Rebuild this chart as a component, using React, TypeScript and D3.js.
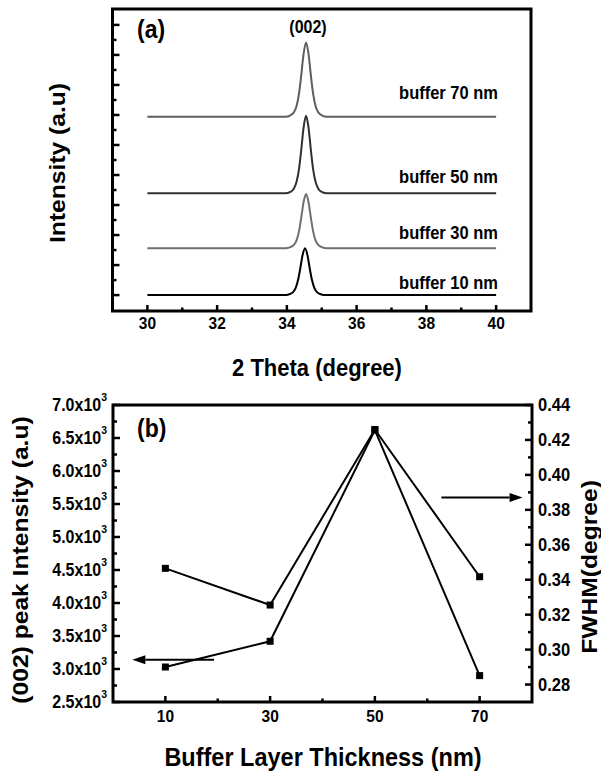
import * as d3 from "d3";

const W = 601;
const H = 776;
const FONT = '"Liberation Sans", Arial, sans-serif';
const SY = 1.12; // the source figure is a little stretched vertically

// ---- panel (a): XRD scans, [2theta, intensity (offset, a.u.)]
const XRD_10: [number, number][] = [
  [30, 0], [33.92, 0], [34.07, 30], [34.17, 90], [34.25, 230], [34.32, 500], [34.38, 860],
  [34.45, 1330], [34.52, 1560], [34.59, 1330], [34.66, 860], [34.72, 500], [34.79, 230],
  [34.87, 90], [34.97, 30], [35.12, 0], [40, 0],
];
const XRD_30: [number, number][] = [
  [30, 1560], [33.95, 1560], [34.1, 1600], [34.2, 1670], [34.28, 1830], [34.35, 2140], [34.41, 2560],
  [34.48, 3100], [34.55, 3370], [34.62, 3100], [34.69, 2560], [34.75, 2140], [34.82, 1830],
  [34.9, 1670], [35.0, 1600], [35.15, 1560], [40, 1560],
];
const XRD_50: [number, number][] = [
  [30, 3390], [33.95, 3390], [34.1, 3440], [34.2, 3545], [34.28, 3780], [34.35, 4215], [34.41, 4810],
  [34.48, 5585], [34.55, 5970], [34.62, 5585], [34.69, 4810], [34.75, 4215], [34.82, 3780],
  [34.9, 3545], [35.0, 3440], [35.15, 3390], [40, 3390],
];
const XRD_70: [number, number][] = [
  [30, 5940], [33.95, 5940], [34.1, 5990], [34.2, 6090], [34.28, 6310], [34.35, 6730], [34.41, 7300],
  [34.48, 8040], [34.55, 8410], [34.62, 8040], [34.69, 7300], [34.75, 6730], [34.82, 6310],
  [34.9, 6090], [35.0, 5990], [35.15, 5940], [40, 5940],
];
const XRD_NAMES = ["buffer 10 nm", "buffer 30 nm", "buffer 50 nm", "buffer 70 nm"];
const THETA_TICKS = [30, 32, 34, 36, 38, 40];
const THETA_MINOR = [31, 33, 35, 37, 39];
const INT_TICKS = [0, 1000, 2000, 3000, 4000, 5000, 6000, 7000, 8000, 9000];

// ---- panel (b): peak intensity and FWHM vs buffer thickness
const THICKNESS = [10, 30, 50, 70];
const PEAK_INTENSITY = [3030, 3420, 6620, 2900];
const FWHM = [0.3465, 0.3255, 0.426, 0.3417];
const THICK_MINOR = [20, 40, 60];
const LEFT_TICKS = [2500, 3000, 3500, 4000, 4500, 5000, 5500, 6000, 6500, 7000];
const RIGHT_TICKS = [0.28, 0.3, 0.32, 0.34, 0.36, 0.38, 0.4, 0.42, 0.44];

const XRD = [XRD_10, XRD_30, XRD_50, XRD_70];
const XRD_COLORS = ["#000000", "#707070", "#303030", "#5e5e5e"];
const XRD_LABEL_Y = [283, 233, 177, 93];

function Txt({ x, y, size, anchor = "middle", rotate = false, children }: any) {
  return (
    <text
      transform={`translate(${x},${y}) scale(1,${SY})${rotate ? " rotate(-90)" : ""}`}
      fontSize={size}
      fontFamily={FONT}
      fontWeight="bold"
      textAnchor={anchor}
      dominantBaseline="central"
      fill="#000"
    >
      {children}
    </text>
  );
}

function Arrow({ x1, x2, y }: { x1: number; x2: number; y: number }) {
  const dir = Math.sign(x2 - x1);
  const len = 13;
  return (
    <g>
      <line x1={x1} y1={y} x2={x2 - dir * len} y2={y} stroke="#000" strokeWidth={2} />
      <polygon
        points={`${x2},${y} ${x2 - dir * len},${y - 4.5} ${x2 - dir * len},${y + 4.5}`}
        fill="#000"
      />
    </g>
  );
}

export default function App() {
  // panel (a)
  const xA = d3.scaleLinear().domain([29, 41]).range([112.5, 531]);
  const yA = d3.scaleLinear().domain([-530, 9530]).range([311, 9]);
  const lineA = d3
    .line<[number, number]>()
    .x((d) => xA(d[0]))
    .y((d) => yA(d[1]))
    .curve(d3.curveMonotoneX);

  // panel (b)
  const xB = d3.scaleLinear().domain([0, 80]).range([113, 532]);
  const yL = d3.scaleLinear().domain([2500, 7000]).range([702, 405]);
  const yR = d3.scaleLinear().domain([0.27, 0.44]).range([702, 405]);
  const lineL = d3
    .line<number>()
    .x((_, i) => xB(THICKNESS[i]))
    .y((d) => yL(d));
  const lineR = d3
    .line<number>()
    .x((_, i) => xB(THICKNESS[i]))
    .y((d) => yR(d));

  const [ax0, ax1] = xA.range();
  const [ay0, ay1] = yA.range();
  const [bx0, bx1] = xB.range();
  const [by0, by1] = yL.range();

  return (
    <svg
      width={W}
      height={H}
      viewBox={`0 0 ${W} ${H}`}
      style={{ position: "absolute", left: 0, top: 0, background: "#fff" }}
    >
      <rect width={W} height={H} fill="#fff" />

      {/* ---------- panel (a) ---------- */}
      {XRD.map((pts, i) => (
        <path key={i} d={lineA(pts) ?? ""} fill="none" stroke={XRD_COLORS[i]} strokeWidth={2} />
      ))}
      {XRD_NAMES.map((n, i) => (
        <Txt key={n} x={498} y={XRD_LABEL_Y[i]} size={16.5} anchor="end">
          {n}
        </Txt>
      ))}
      {THETA_TICKS.map((t) => (
        <g key={t}>
          <line x1={xA(t)} x2={xA(t)} y1={ay0} y2={ay0 - 6} stroke="#000" strokeWidth={2.5} />
          <Txt x={xA(t)} y={323} size={15.5}>
            {t}
          </Txt>
        </g>
      ))}
      {THETA_MINOR.map((t) => (
        <line key={t} x1={xA(t)} x2={xA(t)} y1={ay0} y2={ay0 - 3.5} stroke="#000" strokeWidth={2.5} />
      ))}
      {INT_TICKS.map((v) => (
        <g key={v}>
          <line x1={ax0} x2={ax0 + 7} y1={yA(v)} y2={yA(v)} stroke="#000" strokeWidth={2.5} />
          {v < 9000 && (
            <line x1={ax0} x2={ax0 + 4} y1={yA(v + 500)} y2={yA(v + 500)} stroke="#000" strokeWidth={2.5} />
          )}
        </g>
      ))}
      <rect x={ax0} y={ay1} width={ax1 - ax0} height={ay0 - ay1} fill="none" stroke="#000" strokeWidth={3} />
      <Txt x={137} y={29} size={23} anchor="start">(a)</Txt>
      <Txt x={308} y={27} size={16}>(002)</Txt>
      <Txt x={317} y={368} size={22}>2 Theta (degree)</Txt>
      <Txt x={57} y={163} size={22} rotate>
        Intensity (a.u)
      </Txt>

      {/* ---------- panel (b) ---------- */}
      <path d={lineR(FWHM) ?? ""} fill="none" stroke="#000" strokeWidth={2} />
      <path d={lineL(PEAK_INTENSITY) ?? ""} fill="none" stroke="#000" strokeWidth={2} />
      {THICKNESS.map((t, i) => (
        <g key={t}>
          <rect x={xB(t) - 3.5} y={yR(FWHM[i]) - 3.5} width={7} height={7} fill="#000" />
          <rect x={xB(t) - 3.5} y={yL(PEAK_INTENSITY[i]) - 3.5} width={7} height={7} fill="#000" />
        </g>
      ))}
      <Arrow x1={xB(19.3)} x2={xB(3.7)} y={yL(3140)} />
      <Arrow x1={xB(62.7)} x2={xB(78.2)} y={yR(0.387)} />

      {THICKNESS.map((t) => (
        <g key={t}>
          <line x1={xB(t)} x2={xB(t)} y1={by0} y2={by0 - 6} stroke="#000" strokeWidth={2.5} />
          <Txt x={xB(t)} y={716} size={15.5}>
            {t}
          </Txt>
        </g>
      ))}
      {THICK_MINOR.map((t) => (
        <line key={t} x1={xB(t)} x2={xB(t)} y1={by0} y2={by0 - 3.5} stroke="#000" strokeWidth={2.5} />
      ))}
      {LEFT_TICKS.map((v) => (
        <g key={v}>
          <line x1={bx0} x2={bx0 + 7} y1={yL(v)} y2={yL(v)} stroke="#000" strokeWidth={2.5} />
          {v < 7000 && (
            <line x1={bx0} x2={bx0 + 4} y1={yL(v + 250)} y2={yL(v + 250)} stroke="#000" strokeWidth={2.5} />
          )}
          <Txt x={107} y={yL(v)} size={16} anchor="end">
            {(v / 1000).toFixed(1)}x10
            <tspan fontSize={10.5} dy={-7}>
              3
            </tspan>
          </Txt>
        </g>
      ))}
      {RIGHT_TICKS.map((v) => (
        <g key={v}>
          <line x1={bx1} x2={bx1 - 7} y1={yR(v)} y2={yR(v)} stroke="#000" strokeWidth={2.5} />
          {v < 0.44 && (
            <line x1={bx1} x2={bx1 - 4} y1={yR(v + 0.01)} y2={yR(v + 0.01)} stroke="#000" strokeWidth={2.5} />
          )}
          <Txt x={538} y={yR(v)} size={16.5} anchor="start">
            {v.toFixed(2)}
          </Txt>
        </g>
      ))}
      <rect x={bx0} y={by1} width={bx1 - bx0} height={by0 - by1} fill="none" stroke="#000" strokeWidth={3} />
      <Txt x={137} y={428} size={23} anchor="start">(b)</Txt>
      <Txt x={323} y={757} size={23.5}>Buffer Layer Thickness (nm)</Txt>
      <Txt x={20} y={560} size={22} rotate>
        (002) peak Intensity (a.u)
      </Txt>
      <Txt x={589} y={567} size={22} rotate>
        FWHM(degree)
      </Txt>
    </svg>
  );
}
